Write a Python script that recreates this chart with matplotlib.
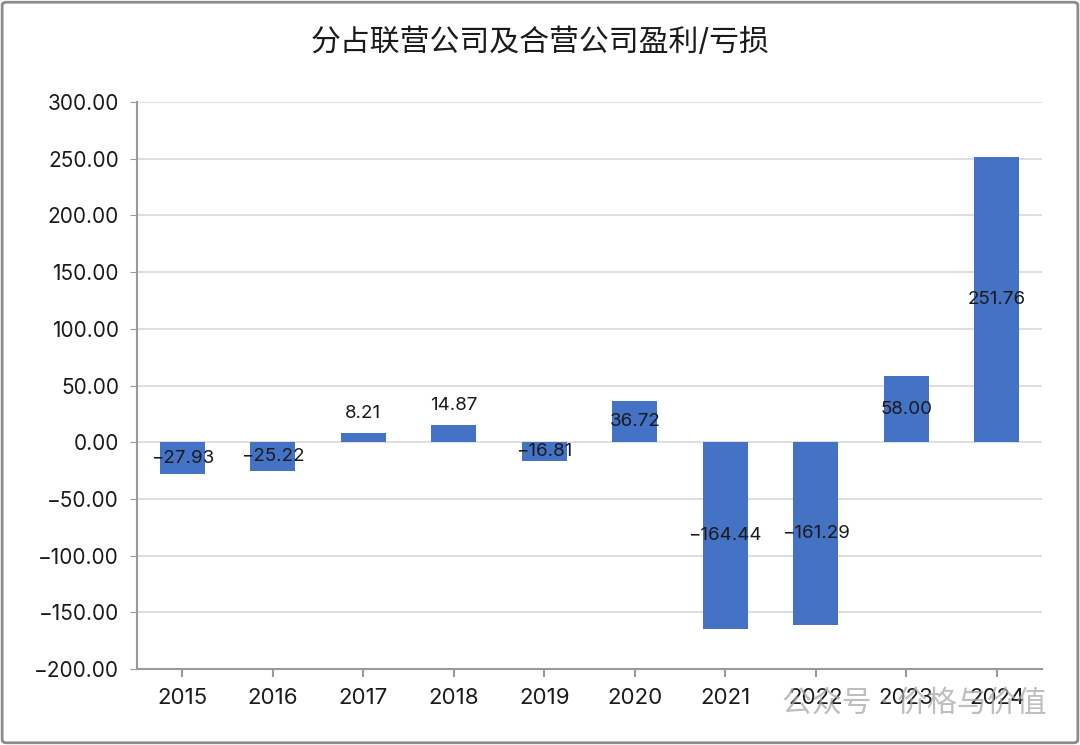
import matplotlib
matplotlib.use("Agg")
import matplotlib.pyplot as plt
from matplotlib.patches import FancyBboxPatch

plt.rcParams['font.family'] = ['Inter', 'Noto Sans CJK SC', 'DejaVu Sans']
plt.rcParams['axes.unicode_minus'] = True

# data
years = ['2015', '2016', '2017', '2018', '2019', '2020', '2021', '2022', '2023', '2024']
values = [-27.93, -25.22, 8.21, 14.87, -16.81, 36.72, -164.44, -161.29, 58.00, 251.76]
yticks = [-200, -150, -100, -50, 0, 50, 100, 150, 200, 250, 300]

title = '分占联营公司及合营公司盈利/亏损'
watermark = '公众号 · 价格与价值'

bar_color = '#4472C4'
grid_color = '#d9d9d9'
spine_color = '#9a9a9a'


def fmt(v):
    return f"{v:.2f}".replace('-', '\u2212')


fig = plt.figure(figsize=(10.8, 7.45), dpi=100)
ax = fig.add_axes([0.1269, 0.102, 0.8379, 0.761])

x = list(range(len(years)))
ax.bar(x, values, width=0.5, color=bar_color, zorder=3)

# labels: centred in bar, small positive bars get label above
for xi, v in zip(x, values):
    if 0 < v < 20:
        ax.annotate(fmt(v), (xi, v), xytext=(0, 14), textcoords='offset points',
                    ha='center', va='center', fontsize=13.5, color='#1a1a1a', zorder=4)
    else:
        ax.text(xi, v / 2, fmt(v), ha='center', va='center', fontsize=13.5,
                color='#1a1a1a', zorder=4)

ax.set_xlim(-0.5, len(years) - 0.5)
ax.set_ylim(-200, 300)
ax.set_yticks(yticks)
ax.set_yticklabels([fmt(t) for t in yticks])
ax.set_xticks(x)
ax.set_xticklabels(years)

ax.grid(axis='y', color=grid_color, linewidth=1.2, zorder=0)
ax.set_axisbelow(True)
for s in ['top', 'right']:
    ax.spines[s].set_visible(False)
for s in ['left', 'bottom']:
    ax.spines[s].set_color(spine_color)
    ax.spines[s].set_linewidth(1.5)
ax.spines['bottom'].set_zorder(5)

ax.tick_params(axis='y', length=5, color=spine_color, labelsize=15, pad=8, labelcolor='#1a1a1a')
ax.tick_params(axis='x', length=6, color=spine_color, width=1.5, labelsize=16, pad=8, labelcolor='#1a1a1a')

fig.text(0.5, 0.943, title, ha='center', va='center', fontsize=21.5, color='#1a1a1a')

# faint watermark at lower right
fig.text(0.724, 0.056, watermark, ha='left', va='center', fontsize=21.5,
         color='#a8a8a8', alpha=0.75, zorder=0)

# grey frame around the whole picture
frame = FancyBboxPatch((0.002, 0.003), 0.996, 0.994, boxstyle='round,pad=0,rounding_size=0.004',
                       transform=fig.transFigure, fill=False, edgecolor='#8c8c8c', linewidth=2)
fig.patches.append(frame)

fig.savefig('out.png', dpi=100)
